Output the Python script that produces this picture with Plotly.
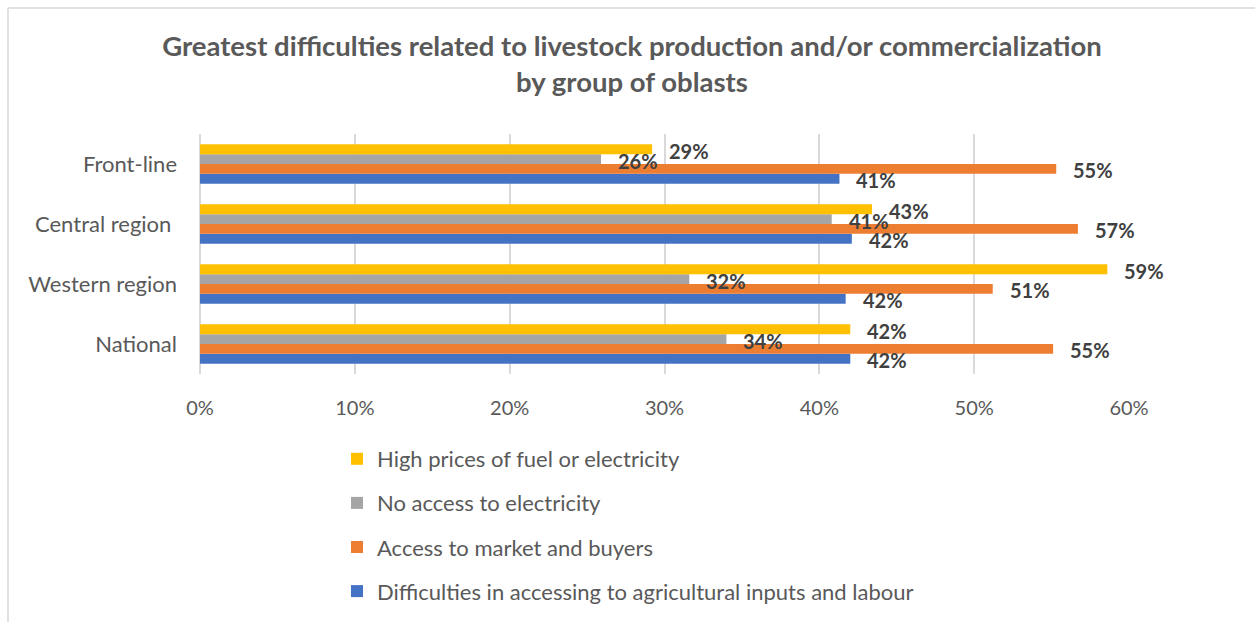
import plotly.graph_objects as go

# Oblast groups, listed bottom-to-top as they appear on the category axis
groups = ["National", "Western region", "Central region ", "Front-line"]

# Share of respondents naming each difficulty (fractions of 1)
inputs_labour = [0.420, 0.417, 0.421, 0.413]
market_buyers = [0.551, 0.512, 0.567, 0.553]
no_electricity = [0.340, 0.316, 0.408, 0.259]
fuel_prices = [0.420, 0.586, 0.434, 0.292]

series_names = [
    "Difficulties in accessing to agricultural inputs and labour",
    "Access to market and buyers",
    "No access to electricity",
    "High prices of fuel or electricity",
]
series_values = [inputs_labour, market_buyers, no_electricity, fuel_prices]
series_colors = ["#4472C4", "#ED7D31", "#A5A5A5", "#FFC000"]

x_tick_vals = [0, 0.1, 0.2, 0.3, 0.4, 0.5, 0.6]
x_tick_text = ["0%", "10%", "20%", "30%", "40%", "50%", "60%"]

title_text = ("Greatest difficulties related to livestock production and/or commercialization"
              "<br>by group of oblasts")

# Page geometry
W, H = 1255, 622
M_L, M_R, M_T, M_B = 200, 126, 134, 248
BARGAP = 0.345
FONT = "Lato"
TEXT_GREY = "#595959"
LABEL_GREY = "#404040"
GRID = "#D9D9D9"

plot_w = W - M_L - M_R
plot_h = H - M_T - M_B


def px_x(p):
    return (p - M_L) / plot_w


def px_y(p):
    return (H - M_B - p) / plot_h


fig = go.Figure()
n = len(series_values)
for i, (name, vals, col) in enumerate(zip(series_names, series_values, series_colors)):
    fig.add_trace(go.Bar(
        y=groups, x=vals, name=name, orientation="h",
        marker=dict(color=col, line=dict(width=0)),
        legendgroup=name, legendrank=n - i, hoverinfo="skip",
    ))

# Value labels placed just right of each bar end, centred on the bar
group_w = 1 - BARGAP
bar_w = group_w / n
annotations = []
for i, vals in enumerate(series_values):
    offset = -group_w / 2 + (i + 0.5) * bar_w
    for j, v in enumerate(vals):
        annotations.append(dict(
            x=v, y=j + offset, xref="x", yref="y",
            text=f"{round(v * 100):.0f}%", showarrow=False,
            xanchor="left", yanchor="middle", xshift=15, yshift=-1.5,
            font=dict(family=FONT, size=20, color=LABEL_GREY, weight="bold"),
        ))

# Light frame along the top and left edges of the chart area
frame = [
    dict(type="line", xref="paper", yref="paper",
         x0=px_x(8), x1=px_x(W + 2), y0=px_y(8), y1=px_y(8),
         line=dict(color=GRID, width=1.5)),
    dict(type="line", xref="paper", yref="paper",
         x0=px_x(8), x1=px_x(8), y0=px_y(8), y1=px_y(H + 2),
         line=dict(color=GRID, width=1.5)),
]

fig.update_layout(
    width=W, height=H,
    margin=dict(l=M_L, r=M_R, t=M_T, b=M_B, pad=0, autoexpand=False),
    paper_bgcolor="white", plot_bgcolor="white",
    barmode="group", bargap=BARGAP, bargroupgap=0,
    font=dict(family=FONT, color=TEXT_GREY),
    title=dict(
        text=title_text, x=632 / W, xanchor="center",
        y=1 - 56 / H, yanchor="top", yref="container",
        font=dict(family=FONT, size=27.5, color=TEXT_GREY, weight="bold"),
    ),
    xaxis=dict(
        range=[0, 0.6], tickvals=x_tick_vals, ticktext=x_tick_text,
        showgrid=True, gridcolor=GRID, gridwidth=1.5,
        zeroline=True, zerolinecolor=GRID, zerolinewidth=1.5,
        showline=False, ticks="", ticklabelstandoff=20,
        tickfont=dict(family=FONT, size=20, color=TEXT_GREY),
        automargin=False, fixedrange=True,
    ),
    yaxis=dict(
        type="category", categoryorder="array", categoryarray=groups,
        range=[-0.5, len(groups) - 0.5],
        showgrid=False, zeroline=False, showline=False, ticks="",
        ticklabelstandoff=22,
        tickfont=dict(family=FONT, size=22, color=TEXT_GREY),
        automargin=False, fixedrange=True,
    ),
    legend=dict(
        x=px_x(337), y=px_y(438), xanchor="left", yanchor="top",
        orientation="v", traceorder="grouped", tracegroupgap=12.5,
        font=dict(family=FONT, size=22, color=TEXT_GREY),
        bgcolor="rgba(0,0,0,0)",
    ),
    annotations=annotations,
    shapes=frame,
)

fig.write_html("out.html")
